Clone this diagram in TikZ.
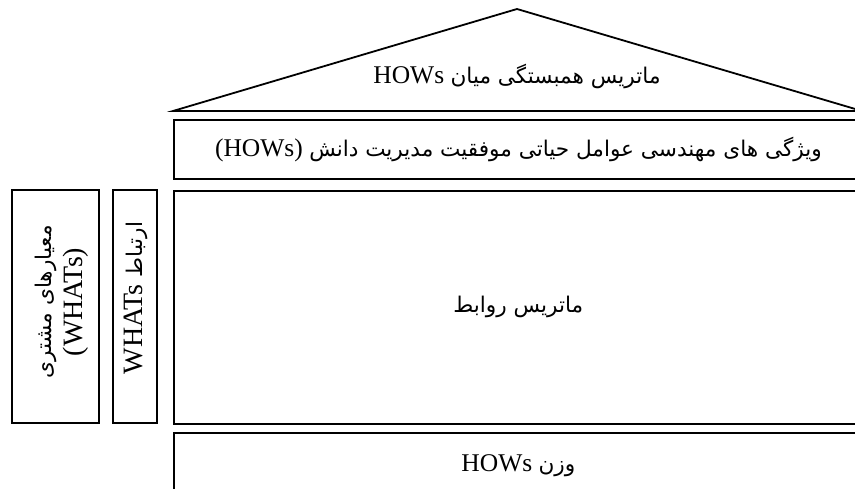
\documentclass[tikz,border=0pt]{standalone}
\usepackage{fontspec}
\setmainfont{Liberation Serif}
\newfontfamily\arabicfont[Script=Arabic]{DejaVu Sans}
\TeXXeTstate=1
\newcommand{\Fa}[1]{{\arabicfont\fontsize{21.6}{31}\selectfont\beginR #1\endR}}
\newcommand{\FaEn}[2]{{\beginR{\arabicfont\fontsize{21.6}{31}\selectfont #1} \beginL #2\endL\endR}}

\begin{document}
\begin{tikzpicture}[x=1pt, y=-1pt, font=\fontsize{25.5}{31}\selectfont,
    houseline/.style={line width=1.8pt, line join=miter},
    housebox/.style={draw, houseline, inner sep=0pt, anchor=north west, minimum width=689pt},
    wallbox/.style={draw, houseline, inner sep=0pt, rotate=90, minimum width=233pt},
    walltext/.style={rotate=90, align=center, inner sep=0pt, font=\fontsize{28}{31}\selectfont}]

    \useasboundingbox (0,0) rectangle (855,489);
    \clip (0,0) rectangle (855,489);

    % roof
    \coordinate (roofL) at (173,111);
    \coordinate (roofT) at (517,9);
    \coordinate (roofR) at (862,111);
    \draw[houseline] (roofL) -- (roofT) -- (roofR) -- cycle;
    \draw(517,76) node (corr) {\FaEn{ماتریس همبستگی میان}{HOWs}};

    % rooms
    \node[housebox, minimum height=59pt] (hows) at (173,119)
    {\FaEn{ویژگی های مهندسی عوامل حیاتی موفقیت مدیریت دانش}{(HOWs)}};
    \node[housebox, minimum height=233pt] (rel) at (173,190) {\Fa{ماتریس روابط}};
    \node[housebox, minimum height=66pt] (weight) at (173,432) {\FaEn{وزن}{HOWs}};

    % walls
    \node[wallbox, minimum height=87pt] (whats) at (55.5,306.5) {};
    \node[wallbox, minimum height=44pt] (link) at (135,306.5) {};
    \draw(62,302) node[walltext] (whatsText) {\Fa{معیارهای مشتری}\\(WHATs)};
    \draw(136,298) node[walltext] (linkText) {\FaEn{ارتباط}{WHATs}};

\end{tikzpicture}
\end{document}
